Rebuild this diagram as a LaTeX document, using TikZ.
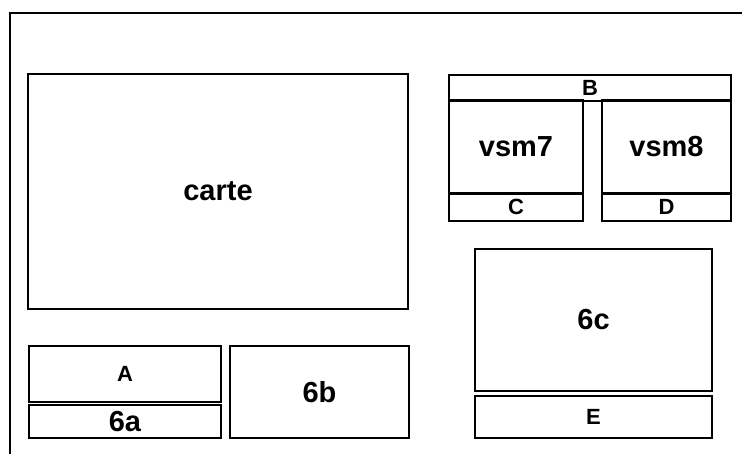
\documentclass[tikz,border=0pt]{standalone}
\usepackage{fontspec}
\setmainfont{Liberation Sans}
\begin{document}
\begin{tikzpicture}[x=1pt,y=-1pt,
  frame/.style={line width=2.6pt, line cap=rect},
  box/.style={draw, line width=2.6pt, inner sep=0pt, rectangle},
  big/.style={font=\bfseries\fontsize{29}{31}\selectfont},
  small/.style={font=\bfseries\fontsize{22}{24}\selectfont}]
\useasboundingbox (0,0) rectangle (742,454);
\begin{scope}
\clip (0,0) rectangle (742,454);
\coordinate (ftr) at (745,13);
\coordinate (ftl) at (10,13);
\coordinate (fbl) at (10,458);
\draw[frame] (ftr) -- (ftl) -- (fbl);
\end{scope}
\node[box, big, minimum width=380pt, minimum height=235pt] (carte) at (218,191.5) {carte};
\node[box, small, minimum width=282pt, minimum height=26pt] (B) at (590,88) {B};
\node[box, big, minimum width=134pt, minimum height=93pt] (vsm7) at (516,147) {vsm7};
\node[box, small, minimum width=134pt, minimum height=28pt] (C) at (516,207) {C};
\node[box, big, minimum width=129pt, minimum height=93pt] (vsm8) at (666.5,147) {vsm8};
\node[box, small, minimum width=129pt, minimum height=28pt] (D) at (666.5,207) {D};
\node[box, small, minimum width=192pt, minimum height=56pt] (A) at (125,374) {A};
\node[box, big, minimum width=192pt, minimum height=33pt] (6a) at (125,421.5) {6a};
\node[box, big, minimum width=179pt, minimum height=92pt] (6b) at (319.5,392) {6b};
\node[box, big, minimum width=237pt, minimum height=142pt] (6c) at (593.5,320) {6c};
\node[box, small, minimum width=237pt, minimum height=42pt] (E) at (593.5,417) {E};
\end{tikzpicture}
\end{document}
